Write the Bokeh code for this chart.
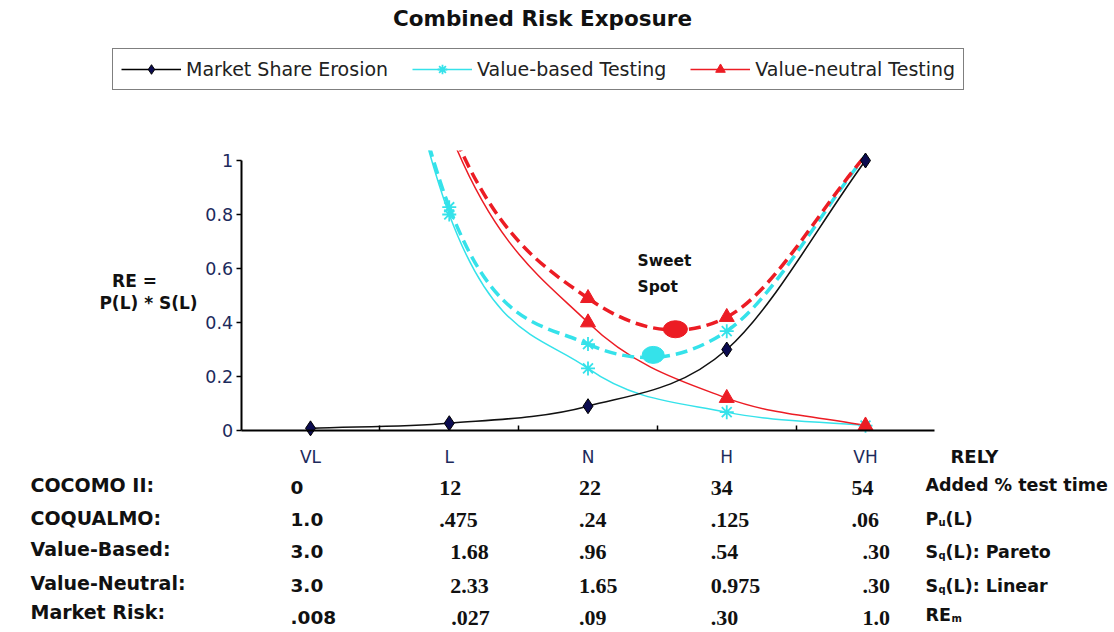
from bokeh.plotting import figure
from bokeh.models import (Range1d, LinearAxis, FixedTicker, NumeralTickFormatter,
                          CustomJSTickFormatter, Legend, LegendItem, ColumnDataSource)
from bokeh.layouts import column
from bokeh.core.properties import value
from bokeh.embed import file_html
from bokeh.resources import INLINE

# ---------------- data ----------------
rely_levels = ["VL", "L", "N", "H", "VH"]
rely_pos = [0, 1, 2, 3, 4]
market_share_erosion = [0.008, 0.027, 0.09, 0.30, 1.0]
value_based_re = [3.0, 0.80, 0.23, 0.068, 0.018]
value_neutral_re = [3.0, 1.11, 0.40, 0.12, 0.018]
value_based_total = [3.008, 0.827, 0.32, 0.368, 1.018]
value_neutral_total = [3.008, 1.137, 0.49, 0.42, 1.018]
sweet_spot_x = [2.47, 2.63]
sweet_spot_y = [0.28, 0.375]
y_ticks = [0, 0.2, 0.4, 0.6, 0.8, 1.0]

row_labels = ["COCOMO II:", "COQUALMO:", "Value-Based:", "Value-Neutral:", "Market Risk:"]
cocomo_ii = ["0", "12", "22", "34", "54"]
coqualmo = ["1.0", ".475", ".24", ".125", ".06"]
value_based = ["3.0", "1.68", ".96", ".54", ".30"]
value_neutral = ["3.0", "2.33", "1.65", "0.975", ".30"]
market_risk = [".008", ".027", ".09", ".30", "1.0"]
table_rows = [cocomo_ii, coqualmo, value_based, value_neutral, market_risk]

# ---------------- layout helpers (page pixels -> data) ----------------
W = 1114
TOP_H = 150
MAIN_H = 482
VL_PX, DX = 310.0, 138.75      # page x of VL, px per category
Y0_PX, SY = 430.0, 270.0       # page y of RE=0, px per unit


def fx(px):
    return (px - VL_PX) / DX


def fy(py):
    return (Y0_PX - py) / SY


def ty(py):
    return TOP_H - py


xr = Range1d(fx(0), fx(W))
CYAN = "#35e2ea"
RED = "#ec1c24"
NAVY = "#0b0b50"
TICKC = "#1c2a5c"
TXT = "#111111"


def add_text(fig, xs, ys, texts, size, font="DejaVu Sans", bold=True, color=TXT,
             align="left", xo=None, yo=None):
    n = len(texts)
    src = ColumnDataSource(dict(x=xs, y=ys, text=texts,
                                xo=xo if xo is not None else [0] * n,
                                yo=yo if yo is not None else [0] * n))
    fig.text(x="x", y="y", text="text", source=src, x_offset="xo", y_offset="yo",
             text_font=value(font), text_font_style="bold" if bold else "normal",
             text_font_size=size, text_color=color, text_align=align,
             text_baseline="middle")


# ---------------- top figure: title + legend ----------------
ptop = figure(width=W, height=TOP_H, x_range=xr, y_range=Range1d(0, TOP_H),
              x_axis_type=None, y_axis_type=None, toolbar_location=None,
              output_backend="svg", min_border=0, outline_line_color=None, title=None)

add_text(ptop, [fx(542)], [ty(18)], ["Combined Risk Exposure"], "21.5px", align="center")

# legend sample renderers (single point placed outside the visible area)
hx, hy = [0, 1], [-1000, -1000]
l1 = ptop.line(x=hx, y=hy, line_color="black", line_width=1.5)
s1 = ptop.scatter(x=hx, y=hy, marker="diamond", size=12, fill_color=NAVY, line_color="black")
l2 = ptop.line(x=hx, y=hy, line_color=CYAN, line_width=1.5)
s2 = ptop.scatter(x=hx, y=hy, marker="asterisk", size=12, line_color=CYAN, line_width=1.8)
l3 = ptop.line(x=hx, y=hy, line_color=RED, line_width=1.5)
s3 = ptop.scatter(x=hx, y=hy, marker="triangle", size=12, fill_color=RED, line_color=RED)

legend = Legend(items=[LegendItem(label="Market Share Erosion", renderers=[l1, s1]),
                       LegendItem(label="Value-based Testing", renderers=[l2, s2]),
                       LegendItem(label="Value-neutral Testing", renderers=[l3, s3])],
                orientation="horizontal", location=(112, 60), margin=0,
                glyph_width=60, glyph_height=24, label_height=24, label_standoff=5,
                spacing=24, padding=8, border_line_color="black", border_line_width=1.5,
                background_fill_color="white", background_fill_alpha=1.0,
                label_text_font="DejaVu Sans", label_text_font_size="19px",
                label_text_baseline="alphabetic", label_text_color="#222222")
ptop.add_layout(legend)

# ---------------- main figure ----------------
p = figure(width=W, height=MAIN_H, x_range=xr, y_range=Range1d(fy(TOP_H + MAIN_H), fy(TOP_H)),
           x_axis_type=None, y_axis_type=None, toolbar_location=None,
           output_backend="svg", min_border=0, outline_line_color=None, title=None)


def catmull(xs, ys):
    px = [2 * xs[0] - xs[1]] + list(xs) + [2 * xs[-1] - xs[-2]]
    py = [2 * ys[0] - ys[1]] + list(ys) + [2 * ys[-1] - ys[-2]]
    d = dict(x0=[], y0=[], x1=[], y1=[], cx0=[], cy0=[], cx1=[], cy1=[])
    for i in range(len(xs) - 1):
        a, b, c, e = i, i + 1, i + 2, i + 3
        d["x0"].append(px[b]); d["y0"].append(py[b])
        d["x1"].append(px[c]); d["y1"].append(py[c])
        d["cx0"].append(px[b] + (px[c] - px[a]) / 6); d["cy0"].append(py[b] + (py[c] - py[a]) / 6)
        d["cx1"].append(px[c] - (px[e] - px[b]) / 6); d["cy1"].append(py[c] - (py[e] - py[b]) / 6)
    return ColumnDataSource(d)


curves = [
    (value_based_re, CYAN, 1.5, "solid"),
    (value_neutral_re, RED, 1.5, "solid"),
    (value_based_total, CYAN, 3.5, "12 6"),
    (value_neutral_total, RED, 3.5, "12 6"),
    (market_share_erosion, "#111111", 1.6, "solid"),
]
for ys, col, lw, dash in curves:
    p.bezier(x0="x0", y0="y0", x1="x1", y1="y1", cx0="cx0", cy0="cy0", cx1="cx1", cy1="cy1",
             source=catmull(rely_pos, ys), line_color=col, line_width=lw, line_dash=dash)


def visible(ys):
    xs2 = [x for x, y in zip(rely_pos, ys) if y <= 1.0]
    ys2 = [y for y in ys if y <= 1.0]
    return xs2, ys2


for ys in (value_based_re, value_based_total):
    xs2, ys2 = visible(ys)
    p.scatter(xs2, ys2, marker="asterisk", size=14, line_color=CYAN, line_width=1.8)
for ys in (value_neutral_re, value_neutral_total):
    xs2, ys2 = visible(ys)
    p.scatter(xs2, ys2, marker="triangle", size=15, fill_color=RED, line_color=RED)
xs2, ys2 = visible(market_share_erosion)
p.scatter(xs2, ys2, marker="diamond", size=15, fill_color=NAVY, line_color="black")

p.ellipse(x=sweet_spot_x, y=sweet_spot_y, width=[22, 24], height=[17, 17],
          width_units="screen", height_units="screen",
          fill_color=[CYAN, RED], line_color=[CYAN, RED])

# axes
yaxis = LinearAxis(fixed_location=-0.5, bounds=(0, 1),
                   ticker=FixedTicker(ticks=y_ticks, minor_ticks=[]),
                   formatter=NumeralTickFormatter(format="0.[0]"),
                   axis_line_width=2, axis_line_color="black",
                   major_tick_in=0, major_tick_out=5, major_tick_line_width=1.5,
                   minor_tick_in=0, minor_tick_out=0, major_label_standoff=3,
                   major_label_text_font="DejaVu Sans",
                   major_label_text_font_size="17.5px", major_label_text_color=TICKC)
p.add_layout(yaxis, "left")

xaxis = LinearAxis(fixed_location=0, bounds=(-0.5, 4.5),
                   ticker=FixedTicker(ticks=rely_pos, minor_ticks=[0.5, 1.5, 2.5, 3.5]),
                   formatter=CustomJSTickFormatter(args=dict(labels=rely_levels),
                                                   code="return labels[Math.round(tick)] || '';"),
                   axis_line_width=2, axis_line_color="black",
                   major_tick_in=0, major_tick_out=0,
                   minor_tick_in=5, minor_tick_out=0, minor_tick_line_width=1.5,
                   major_label_standoff=16,
                   major_label_text_font="DejaVu Sans",
                   major_label_text_font_size="17px", major_label_text_color=TICKC)
p.add_layout(xaxis, "below")

# annotations in the plot
add_text(p, [fx(637), fx(637)], [fy(260), fy(286)], ["Sweet", "Spot"], "15.5px")
add_text(p, [fx(134), fx(148)], [fy(280), fy(302)], ["RE =", "P(L) * S(L)"], "17px", align="center")
add_text(p, [fx(950)], [fy(456)], ["RELY"], "18px")

# table
row_y_lab = [484, 517, 548, 582, 611]
row_y_val = [487, 519, 551, 585, 617]
add_text(p, [fx(30)] * 5, [fy(v) for v in row_y_lab], row_labels, "19px")

col_offsets = [
    [-20, -20, -20, -20, -20],
    [-10, -10, 1, 1, 2],
    [-9, -9, -9, -9, -9],
    [-16, -16, -16, -16, -16],
    [-14, -14, -3, -3, -3],
]
for ci in range(5):
    texts = [row[ci] for row in table_rows]
    if ci == 0:
        add_text(p, [rely_pos[ci]] * 5, [fy(v) for v in row_y_val], texts, "18.5px",
                 xo=col_offsets[ci])
    else:
        add_text(p, [rely_pos[ci]] * 5, [fy(v) for v in row_y_val], texts, "22px",
                 font="Liberation Serif", xo=col_offsets[ci])

# right-hand unit labels (with subscripts)
row_y_unit = [484, 518, 551, 585, 614]
main_txt = ["Added % test time", "P", "(L)", "S", "(L): Pareto", "S", "(L): Linear", "RE"]
main_y = [row_y_unit[0], row_y_unit[1], row_y_unit[1], row_y_unit[2], row_y_unit[2],
          row_y_unit[3], row_y_unit[3], row_y_unit[4]]
main_xo = [0, 0, 20, 0, 20, 0, 20, 0]
add_text(p, [fx(925)] * len(main_txt), [fy(v) for v in main_y], main_txt, "17.5px", xo=main_xo)
sub_txt = ["u", "q", "q", "m"]
sub_y = [row_y_unit[1], row_y_unit[2], row_y_unit[3], row_y_unit[4]]
sub_xo = [13, 13, 13, 26]
add_text(p, [fx(925)] * 4, [fy(v) for v in sub_y], sub_txt, "10px", xo=sub_xo, yo=[4, 4, 4, 4])

layout = column(ptop, p, spacing=0)
open("out.html", "w").write(file_html(layout, INLINE, "Combined Risk Exposure"))
